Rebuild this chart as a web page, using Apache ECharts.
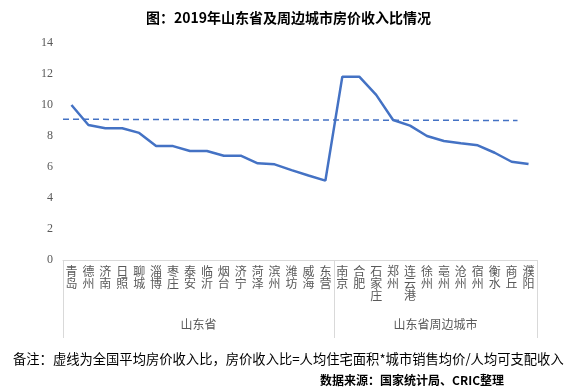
<!DOCTYPE html>
<html><head><meta charset="utf-8">
<script src="https://cdn.jsdelivr.net/npm/echarts@6/dist/echarts.min.js"></script>
<style>html,body{margin:0;padding:0;background:#fff}#c{width:577px;height:391px}</style>
</head><body><div id="c"></div>
<script>
var categories = ['青岛','德州','济南','日照','聊城','淄博','枣庄','泰安','临沂','烟台','济宁','菏泽','滨州','潍坊','威海','东营',
  '南京','合肥','石家庄','郑州','连云港','徐州','亳州','沧州','宿州','衡水','商丘','濮阳'];
var ratios = [10.0,8.71,8.5,8.5,8.2,7.35,7.35,7.03,7.03,6.73,6.73,6.24,6.17,5.8,5.45,5.12,
  11.83,11.83,10.65,9.03,8.67,8.0,7.68,7.53,7.4,6.92,6.34,6.19];
var groups = ['山东省','山东省周边城市'];
var groupBounds = [0,16,28];
var groupCenters = [8,22];
var nationalAvg = [[0,9.08],[26.85,9.0]];
var yTicks = [0,2,4,6,8,10,12,14];

var chart = echarts.init(document.getElementById('c'));
var font = '"Liberation Serif", "Noto Sans CJK SC", serif';
chart.setOption({
  animation:false,
  title:[{text:'图：2019年山东省及周边城市房价收入比情况',left:'center',top:6,
    textStyle:{fontSize:14,fontWeight:'bold',color:'#000',fontFamily:'"Noto Sans CJK SC"'}},
   {text:'备注：虚线为全国平均房价收入比，房价收入比=人均住宅面积*城市销售均价/人均可支配收入',left:8,top:347,
    textStyle:{fontSize:13.3,fontWeight:'normal',color:'#000',fontFamily:'"Noto Sans CJK SC"'}},
   {text:'数据来源：国家统计局、CRIC整理',right:68,top:369,
    textStyle:{fontSize:12,fontWeight:'bold',color:'#000',fontFamily:'"Noto Sans CJK SC"'}}],
  grid:{left:63,right:40,top:43,bottom:131},
  xAxis:[{type:'category',data:categories,position:'bottom',
    axisLine:{lineStyle:{color:'#d9d9d9'}},axisTick:{show:false},
    axisLabel:{interval:0,margin:5,color:'#595959',fontSize:12,lineHeight:12,
      fontFamily:'"Noto Sans CJK SC"',
      formatter:function(v){return v.split('').join('\n');}}},
   {type:'value',min:0,max:28,position:'bottom',
    axisLine:{show:false},splitLine:{show:false},
    axisTick:{show:true,length:78,customValues:groupBounds,lineStyle:{color:'#d9d9d9'}},
    axisLabel:{customValues:groupCenters,margin:58,color:'#595959',fontSize:12,
      fontFamily:'"Noto Sans CJK SC"',
      formatter:function(v){return groups[groupCenters.indexOf(v)];}}}],
  yAxis:{type:'value',min:0,max:14,interval:2,
    axisLine:{show:false},axisTick:{show:false},splitLine:{show:false},
    axisLabel:{color:'#595959',fontSize:12,margin:10,fontFamily:font}},
  series:[{type:'line',data:ratios,xAxisIndex:0,symbol:'none',
    lineStyle:{color:'#4472C4',width:2.5}},
   {type:'line',data:nationalAvg,xAxisIndex:1,symbol:'none',
    lineStyle:{color:'#4472C4',width:1.5,type:[6,4]}}]
});
</script></body></html>
